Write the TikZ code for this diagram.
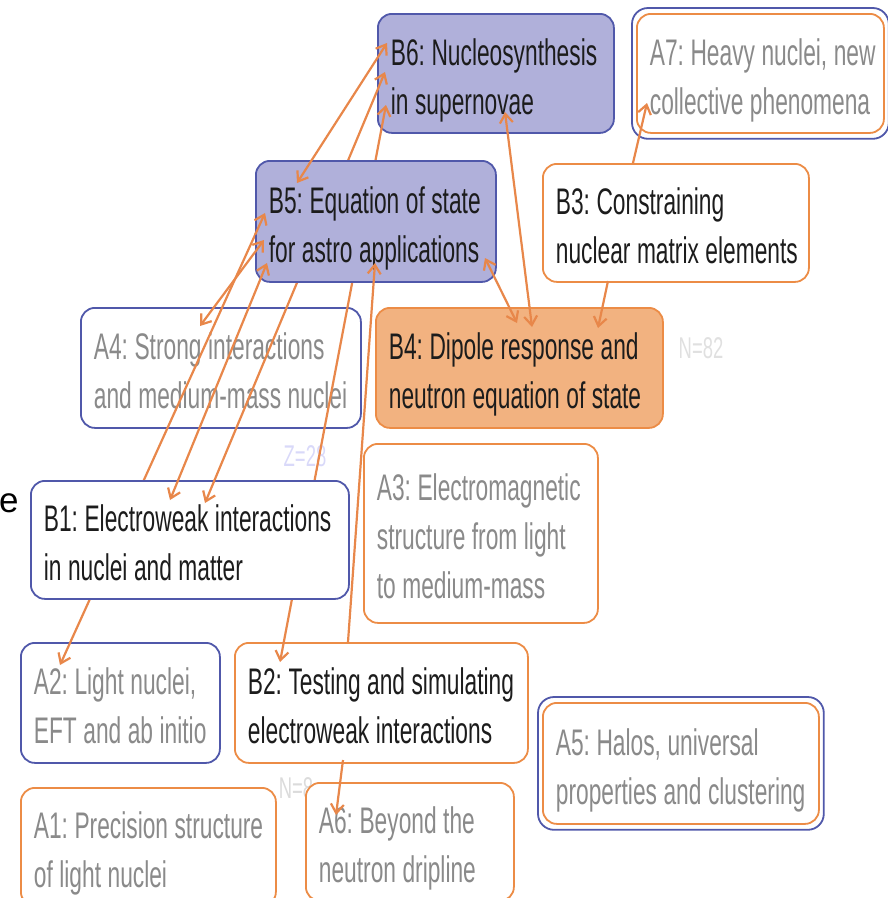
\documentclass[tikz,border=0pt]{standalone}
\usepackage{fontspec}
\setmainfont{Liberation Sans}[FakeStretch=0.615]
\newfontfamily\widesans{Liberation Sans}
\usetikzlibrary{arrows.meta}

\definecolor{lineorange}{HTML}{E8874A}
\definecolor{edgeorange}{HTML}{EC8C46}
\definecolor{edgeblue}{HTML}{5058AA}
\definecolor{lavender}{HTML}{B0B0DA}
\definecolor{dipolefill}{HTML}{F2B280}
\definecolor{softgray}{HTML}{8A8A8A}
\definecolor{darktext}{HTML}{1C1C1C}

\pgfdeclarelayer{boxes}
\pgfdeclarelayer{under}
\pgfsetlayers{boxes,under,main}

% two or three lines of a topic, left aligned
\newcommand{\topictext}[1]{\frenchspacing\spaceskip=6.5pt\relax\begin{tabular}[t]{@{}l@{}}#1\end{tabular}}

\tikzset{
  topic/.style={anchor=north west, rounded corners=14pt, line width=1.8pt,
    inner xsep=13pt, inner ysep=0pt, align=left, text height=47.7pt,
    font=\fontsize{37}{49}\selectfont},
  ablue/.style={topic, draw=edgeblue, fill=white, text=softgray},
  aorange/.style={topic, draw=edgeorange, fill=white, text=softgray},
  bblue/.style={topic, draw=edgeblue, fill=white, text=darktext},
  borange/.style={topic, draw=edgeorange, fill=white, text=darktext},
  lavbox/.style={topic, draw=edgeblue, fill=lavender, text=darktext},
  dipolebox/.style={topic, draw=edgeorange, fill=dipolefill, text=darktext},
  chartlabel/.style={inner sep=0pt, font=\fontsize{30}{30}\selectfont},
  twoway/.style={draw=lineorange, line width=2.2pt,
    {Straight Barb[length=9pt,width=13pt]}-{Straight Barb[length=9pt,width=13pt]}},
  oneway/.style={draw=lineorange, line width=2.2pt, -{Straight Barb[length=9pt,width=13pt]}}
}

\begin{document}
\begin{tikzpicture}[x=1pt, y=-1pt]
  \useasboundingbox (0,0) rectangle (888,898);

  \begin{pgfonlayer}{boxes}
    % faint labels of the chart behind
    \node[chartlabel, text=black!15!blue!15] (z28) at (305,456) {Z=28};
    \node[chartlabel, text=black!12] (n82) at (701,348) {N=82};
    \node[chartlabel, text=black!14] (n8) at (296,788) {N=8};
    \node[inner sep=0pt, anchor=base west, font=\widesans\fontsize{35}{35}\selectfont] (cut) at (-1,512) {e};

    % boxes that the links run over
    \node[lavbox, text width=210pt, minimum height=119pt] (B6) at (377,13)
      {\topictext{B6: Nucleosynthesis\\in supernovae}};
    \node[aorange, text width=221pt, minimum height=119pt] (A7) at (636,13)
      {\topictext{A7: Heavy nuclei, new\\collective phenomena}};
    \draw[edgeblue, line width=1.8pt, rounded corners=16pt]
      ([shift={(-4,-5)}]A7.north west) rectangle ([shift={(4,5)}]A7.south east);
    \node[borange, text width=240pt, minimum height=118pt] (B3) at (542,163)
      {\topictext{B3: Constraining\\nuclear matrix elements}};
    \node[ablue, text width=254pt, minimum height=120pt] (A4) at (80,307)
      {\topictext{A4: Strong interactions\\and medium-mass nuclei}};
    \node[dipolebox, text width=261pt, minimum height=120pt] (B4) at (375,307)
      {\topictext{B4: Dipole response and\\neutron equation of state}};
    \node[aorange, text width=208pt, minimum height=179pt] (A3) at (363,443)
      {\topictext{A3: Electromagnetic\\structure from light\\to medium-mass}};
    \node[ablue, text width=173pt, minimum height=120pt] (A2) at (20,642)
      {\topictext{A2: Light nuclei,\\EFT and ab initio}};
    \node[borange, text width=267pt, minimum height=120pt] (B2) at (234,642)
      {\topictext{B2: Testing and simulating\\electroweak interactions}};
    \node[aorange, text width=250pt, minimum height=121pt] (A5) at (542,702)
      {\topictext{A5: Halos, universal\\properties and clustering}};
    \draw[edgeblue, line width=1.8pt, rounded corners=16pt]
      ([shift={(-4,-5)}]A5.north west) rectangle ([shift={(4,5)}]A5.south east);
    \node[aorange, text width=229pt, minimum height=118pt] (A1) at (20,787)
      {\topictext{A1: Precision structure\\of light nuclei}};
    \node[aorange, text width=182pt, minimum height=118pt] (A6) at (305,782)
      {\topictext{A6: Beyond the\\neutron dripline}};
  \end{pgfonlayer}

  % boxes that hide the links behind them
  \node[lavbox, text width=214pt, minimum height=121pt] (B5) at (255,160)
    {\topictext{B5: Equation of state\\for astro applications}};
  \node[bblue, text width=292pt, minimum height=118pt] (B1) at (30,480)
    {\topictext{B1: Electroweak interactions\\in nuclei and matter}};

  \begin{pgfonlayer}{under}
    \draw[twoway] ([shift={(40,23)}]A2.north west) -- ([shift={(10,53)}]B5.north west);
    \draw[twoway] ([shift={(175,23)}]B1.north west) -- ([shift={(8,59)}]B6.north west);
    \draw[twoway] ([shift={(46,20)}]B2.north west) -- ([shift={(9,92)}]B6.north west);
  \end{pgfonlayer}

  % ends of the hidden links
  \draw[oneway] ([shift={(0,75)}]B5.north west) -- ([shift={(10,53)}]B5.north west);
  \draw[oneway] ([shift={(184.6,0)}]B1.north west) -- ([shift={(175,23)}]B1.north west);

  % links
  \draw[twoway] ([shift={(42,23)}]B5.north west) -- ([shift={(10,30)}]B6.north west);
  \draw[twoway] ([shift={(120,19)}]A4.north west) -- ([shift={(9,80)}]B5.north west);
  \draw[twoway] ([shift={(140,20)}]B1.north west) -- ([shift={(12,103)}]B5.north west);
  \draw[oneway] ([shift={(114,0)}]B2.north west) -- ([shift={(120,103)}]B5.north west);
  \draw[twoway] ([shift={(230,98)}]B5.north west) -- ([shift={(142,16)}]B4.north west);
  \draw[twoway] ([shift={(128,99)}]B6.north west) -- ([shift={(157,20)}]B4.north west);
  \draw[oneway] ([shift={(66,118)}]B3.north west) -- ([shift={(223,21)}]B4.north west);
  \draw[oneway] ([shift={(91,0)}]B3.north west) -- ([shift={(11,90)}]A7.north west);
  \draw[oneway] ([shift={(109,118)}]B2.north west) -- ([shift={(31,33)}]A6.north west);
\end{tikzpicture}
\end{document}
